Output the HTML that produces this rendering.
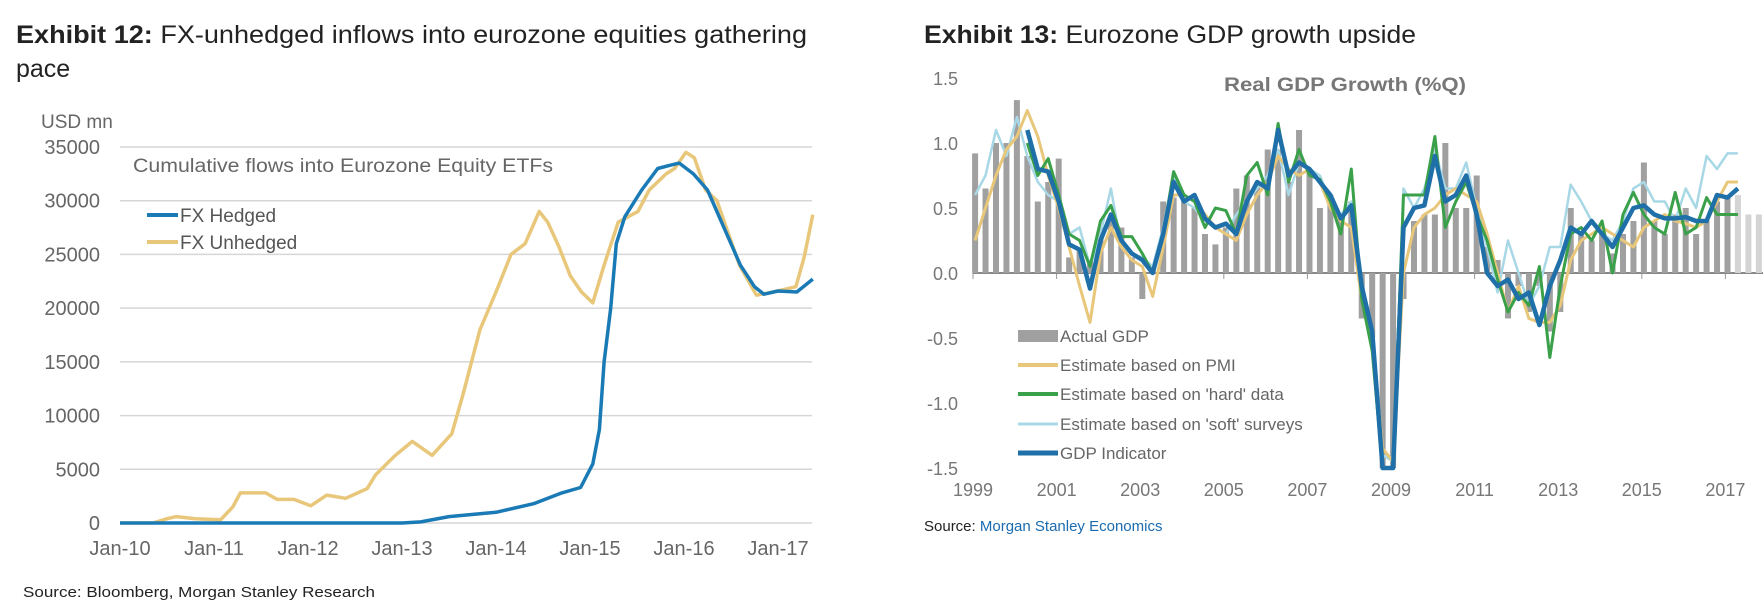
<!DOCTYPE html>
<html><head><meta charset="utf-8"><style>
html,body{margin:0;padding:0;background:#fff}
svg{display:block;font-family:"Liberation Sans",sans-serif}
</style></head><body>
<svg id="root" width="1763" height="616" viewBox="0 0 1763 616">
<g id="left">
<text x="16" y="43" font-size="25" fill="#222" textLength="791" lengthAdjust="spacingAndGlyphs"><tspan font-weight="bold">Exhibit 12:</tspan>  FX-unhedged inflows into eurozone equities gathering</text>
<text x="16" y="77" font-size="25" fill="#222">pace</text>
<text x="41" y="128" font-size="19" fill="#666">USD mn</text>
<text x="133" y="172" font-size="19" fill="#666" textLength="420" lengthAdjust="spacingAndGlyphs">Cumulative flows into Eurozone Equity ETFs</text>
<g id="lgrid"></g><g id="llines"></g>
<line x1="147" y1="215" x2="178" y2="215" stroke="#1a7ab5" stroke-width="4"/>
<text x="180" y="222" font-size="19" fill="#555">FX Hedged</text>
<line x1="147" y1="242" x2="178" y2="242" stroke="#e8c77a" stroke-width="4"/>
<text x="180" y="249" font-size="19" fill="#555">FX Unhedged</text>
<text x="23" y="597" font-size="15" fill="#222" textLength="352" lengthAdjust="spacingAndGlyphs">Source: Bloomberg, Morgan Stanley Research</text>
</g>
<g id="right">
<text x="924" y="43" font-size="25" fill="#222" textLength="492" lengthAdjust="spacingAndGlyphs"><tspan font-weight="bold">Exhibit 13:</tspan>  Eurozone GDP growth upside</text>
<text x="1345" y="91" font-size="19" font-weight="bold" fill="#777" text-anchor="middle" textLength="242" lengthAdjust="spacingAndGlyphs">Real GDP Growth (%Q)</text>
<g id="rgrid"></g><g id="rbars"></g><g id="rlines"></g>
<rect x="1018" y="330" width="40" height="12" fill="#a0a0a0"/>
<text x="1060" y="342" font-size="17" fill="#666">Actual GDP</text>
<line x1="1018" y1="365" x2="1058" y2="365" stroke="#e8c77a" stroke-width="4"/>
<text x="1060" y="371" font-size="17" fill="#666">Estimate based on PMI</text>
<line x1="1018" y1="394" x2="1058" y2="394" stroke="#3aa04a" stroke-width="4"/>
<text x="1060" y="400" font-size="17" fill="#666">Estimate based on 'hard' data</text>
<line x1="1018" y1="424" x2="1058" y2="424" stroke="#a8d8e6" stroke-width="3"/>
<text x="1060" y="430" font-size="17" fill="#666">Estimate based on 'soft' surveys</text>
<line x1="1018" y1="453" x2="1058" y2="453" stroke="#1f6fa8" stroke-width="5"/>
<text x="1060" y="459" font-size="17" fill="#666">GDP Indicator</text>
<text x="924" y="531" font-size="15" fill="#222">Source: <tspan fill="#1a6bb0">Morgan Stanley Economics</tspan></text>
</g>
</svg>
<script>
// ---- Exhibit 12 data (years since Jan-10, USD bn) ----
const yTicksL = [0,5000,10000,15000,20000,25000,30000,35000];
const xTickLabelsL = ["Jan-10","Jan-11","Jan-12","Jan-13","Jan-14","Jan-15","Jan-16","Jan-17"];
const unhedgedT = [0,0.35,0.5,0.6,0.8,1.07,1.2,1.28,1.55,1.67,1.85,2.03,2.2,2.4,2.63,2.72,2.93,3.11,3.32,3.53,3.65,3.83,4.0,4.16,4.31,4.46,4.55,4.67,4.79,4.91,5.03,5.15,5.3,5.51,5.63,5.81,5.9,6.02,6.11,6.23,6.35,6.47,6.59,6.77,6.95,7.19,7.28,7.37];
const unhedgedV = [0,0,0.4,0.6,0.4,0.3,1.5,2.8,2.8,2.2,2.2,1.6,2.6,2.3,3.2,4.5,6.3,7.6,6.3,8.3,12,18,21.5,25,26,29,28,25.7,23,21.5,20.5,24,28,29,31,32.5,33,34.5,34,31,30,27,24,21.2,21.5,22,24.8,28.7];
const hedgedT = [0,1,2,3,3.2,3.5,4.0,4.4,4.7,4.9,5.03,5.1,5.15,5.22,5.28,5.37,5.55,5.72,5.85,5.95,6.1,6.25,6.5,6.6,6.75,6.85,7.0,7.2,7.37];
const hedgedV = [0,0,0,0,0.1,0.6,1.0,1.8,2.8,3.3,5.5,8.7,15,20,26,28.5,31,33,33.3,33.5,32.5,31,26,24,22,21.3,21.6,21.5,22.7];

// ---- Exhibit 13 data (quarterly from 1999Q1) ----
const yTicksR = [-1.5,-1.0,-0.5,0.0,0.5,1.0,1.5];
const xTickLabelsR = ["1999","2001","2003","2005","2007","2009","2011","2013","2015","2017"];
const actualGDP = [0.92,0.65,1.0,1.0, 1.33,0.9,0.55,0.7, 0.88,0.12,0.18,0.1, 0.35,0.42,0.35,0.12, -0.2,0.05,0.55,0.58, 0.55,0.5,0.3,0.22, 0.35,0.65,0.75,0.7, 0.95,0.95,0.7,1.1, 0.8,0.5,0.6,0.45, 0.55,-0.35,-0.5,-1.5, -1.5,-0.2,0.4,0.45, 0.45,1.0,0.5,0.5, 0.75,0.2,0.1,-0.35, -0.1,-0.3,-0.1,-0.45, -0.3,0.5,0.3,0.25, 0.3,0.15,0.3,0.4, 0.85,0.4,0.3,0.45, 0.5,0.3,0.4,0.55, 0.6];
const projectedGDP = [0.6,0.45,0.45,0.4];
const pmiEst = [0.25,0.5,0.75,0.95, 1.05,1.25,1.05,0.75, 0.5,0.2,-0.1,-0.38, 0.15,0.35,0.2,0.1, 0.05,-0.18,0.2,0.6, 0.6,0.55,0.45,0.35, 0.3,0.25,0.45,0.6, 0.7,0.9,0.8,0.75, 0.8,0.7,0.5,0.4, 0.35,-0.2,-0.5,-1.35, -1.45,0.0,0.35,0.45, 0.5,0.6,0.65,0.6, 0.55,0.3,0.0,-0.3, -0.1,-0.35,-0.38,-0.38, -0.25,0.1,0.25,0.3, 0.35,0.3,0.25,0.2, 0.35,0.4,0.45,0.4, 0.38,0.35,0.4,0.55, 0.7,0.7];
const hardEst = [null,null,null,null, null,1.0,0.75,0.88, 0.6,0.3,0.25,0.05, 0.4,0.52,0.28,0.28, 0.15,0.0,0.3,0.78, 0.6,0.55,0.35,0.5, 0.48,0.3,0.75,0.85, 0.6,1.15,0.7,0.95, 0.75,0.72,0.55,0.3, 0.8,-0.2,-0.6,-1.5, -1.5,0.6,0.6,0.6, 1.05,0.35,0.55,0.7, 0.45,0.25,-0.05,-0.3, -0.15,-0.25,0.05,-0.65, -0.1,0.3,0.35,0.25, 0.4,0.0,0.45,0.62, 0.45,0.35,0.3,0.62, 0.3,0.35,0.58,0.45, 0.45,0.45];
const softEst = [0.6,0.75,1.1,0.9, 1.2,0.9,0.7,0.6, 0.55,0.3,0.35,0.05, 0.3,0.65,0.2,0.15, 0.12,0.05,0.35,0.75, 0.55,0.5,0.4,0.35, 0.3,0.45,0.55,0.65, 0.75,0.95,0.6,0.85, 0.8,0.75,0.55,0.45, 0.55,-0.1,-0.5,-1.4, -1.45,0.65,0.5,0.65, 0.95,0.65,0.65,0.85, 0.5,0.2,-0.15,0.25, 0.0,-0.25,-0.1,0.2, 0.2,0.68,0.55,0.4, 0.3,0.25,0.4,0.65, 0.7,0.55,0.55,0.4, 0.65,0.5,0.9,0.8, 0.92,0.92];
const gdpIndicator = [null,null,null,null, null,1.1,0.8,0.78, 0.55,0.22,0.18,-0.12, 0.25,0.45,0.25,0.15, 0.1,0.0,0.3,0.7, 0.55,0.6,0.42,0.35, 0.38,0.3,0.55,0.7, 0.65,1.1,0.75,0.85, 0.8,0.7,0.6,0.42, 0.52,-0.1,-0.45,-1.5, -1.5,0.35,0.5,0.52, 0.9,0.55,0.6,0.75, 0.45,0.0,-0.1,-0.05, -0.2,-0.15,-0.4,-0.1, 0.1,0.35,0.3,0.4, 0.3,0.2,0.35,0.5, 0.52,0.45,0.42,0.42, 0.43,0.4,0.4,0.6, 0.58,0.65];

const NS="http://www.w3.org/2000/svg";
function mk(tag,attrs,parent){const e=document.createElementNS(NS,tag);for(const k in attrs)e.setAttribute(k,attrs[k]);parent.appendChild(e);return e;}

// Left axes
const xL=t=>120+t*94, yL=v=>523-v*10.743;
const lg=document.getElementById('lgrid'), ll=document.getElementById('llines');
yTicksL.forEach(v=>{
  const g=mk('line',{x1:120,x2:812,y1:yL(v/1000),y2:yL(v/1000),stroke:'#d6d6d6','stroke-width':1.5},lg);
  
  
  const t=mk('text',{x:100,y:yL(v/1000)+7,'text-anchor':'end','font-size':20,fill:'#666'},lg);
  t.textContent=v;
  
  
});
xTickLabelsL.forEach((s,i)=>{
  const t=mk('text',{x:xL(i),y:555,'text-anchor':'middle','font-size':20,fill:'#666'},lg);
  t.textContent=s;
  
  
});
function pathL(T,V){return T.map((t,i)=>(i?'L':'M')+xL(t).toFixed(1)+','+yL(V[i]).toFixed(1)).join('');}
const pu=mk('path',{d:pathL(unhedgedT,unhedgedV),fill:'none',stroke:'#e8c77a','stroke-width':3.5,'stroke-linejoin':'round'},ll);


const ph=mk('path',{d:pathL(hedgedT,hedgedV),fill:'none',stroke:'#1a7ab5','stroke-width':3.5,'stroke-linejoin':'round'},ll);



// Right axes
const xR=i=>973+(i/4+0.05)*41.8, yR=v=>273-v*130;
const rg=document.getElementById('rgrid'), rb=document.getElementById('rbars'), rl=document.getElementById('rlines');
yTicksR.forEach(v=>{
  const t=mk('text',{x:958,y:yR(v)+7,'text-anchor':'end','font-size':18,fill:'#777'},rg);
  t.textContent=v.toFixed(1);
  
  
});
xTickLabelsR.forEach((s,i)=>{
  const x=973+i*2*41.8;
  const t=mk('text',{x:x,y:496,'text-anchor':'middle','font-size':18,fill:'#777'},rg);
  t.textContent=s;
  
  
  const tk=mk('line',{x1:x,x2:x,y1:273,y2:279,stroke:'#999','stroke-width':1},rg);
  
  
});
actualGDP.forEach((v,i)=>{
  const r=mk('rect',{x:xR(i)-3,width:6,y:Math.min(yR(v),273),height:Math.abs(yR(v)-273),fill:'#a0a0a0'},rb);
  
  
});
projectedGDP.forEach((v,i)=>{
  const j=actualGDP.length+i;
  const r=mk('rect',{x:xR(j)-3,width:6,y:yR(v),height:273-yR(v),fill:'#d4d4d4'},rb);
  
  
});
const ax=mk('line',{x1:973,x2:1763,y1:273,y2:273,stroke:'#888','stroke-width':2},rg);


function pathR(V){let d='',pen=false;V.forEach((v,i)=>{if(v===null){pen=false;return;}d+=(pen?'L':'M')+xR(i).toFixed(1)+','+yR(Math.max(v,-1.5)).toFixed(1);pen=true;});return d;}
[[softEst,'#a8d8e6',2.5,'soft-surveys-line'],[pmiEst,'#e8c77a',3,'pmi-estimate-line'],[hardEst,'#3aa04a',3,'hard-data-line'],[gdpIndicator,'#1f6fa8',4.5,'gdp-indicator-line']].forEach(s=>{
  const p=mk('path',{d:pathR(s[0]),fill:'none',stroke:s[1],'stroke-width':s[2],'stroke-linejoin':'round'},rl);
  
  
});
</script>
</body></html>
